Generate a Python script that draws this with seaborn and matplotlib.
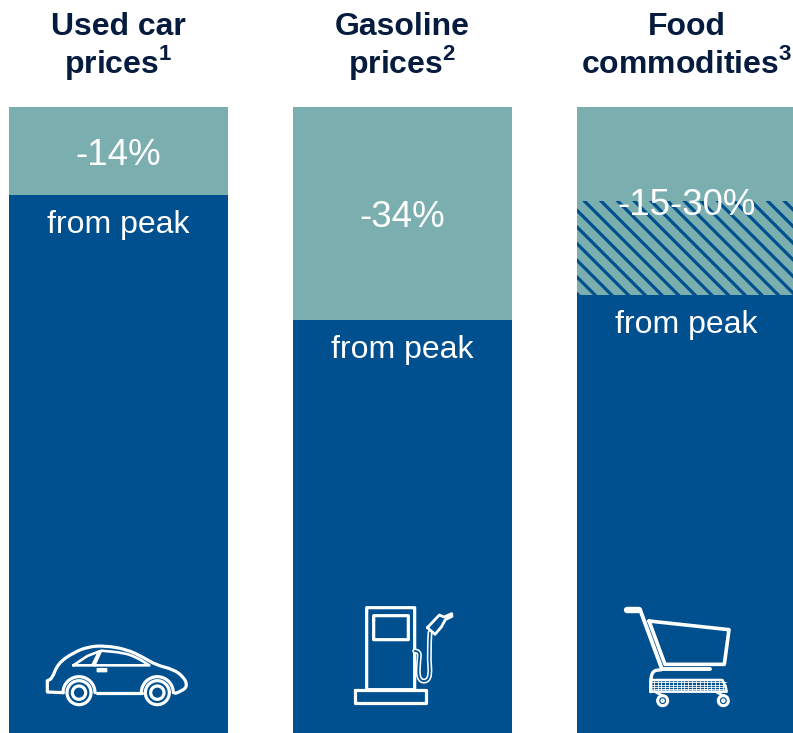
import numpy as np
import pandas as pd
import matplotlib
matplotlib.use("Agg")
import matplotlib.pyplot as plt
import seaborn as sns
from matplotlib.path import Path
from matplotlib.patches import PathPatch, Circle
from matplotlib.transforms import Affine2D

# Price levels indexed to each category's peak (peak = 100)
categories = ["Used car prices", "Gasoline prices", "Food commodities"]
header_top = ["Used car", "Gasoline", "Food"]
header_bottom = ["prices$^{\\mathbf{1}}$", "prices$^{\\mathbf{2}}$", "commodities$^{\\mathbf{3}}$"]
peak_level = [100, 100, 100]
level_high = [86, 66, 85]
level_low = [86, 66, 70]
change_labels = ["-14%", "-34%", "-15-30%"]
sub_label = "from peak"

DARK = "#00508F"
TEAL = "#7BAEAE"
NAVY = "#051C3F"
WHITE = "#FFFFFF"

sns.set_theme(style="white")
plt.rcParams["font.family"] = ["Liberation Sans", "DejaVu Sans"]
plt.rcParams["mathtext.fontset"] = "custom"
plt.rcParams["mathtext.bf"] = "Liberation Sans:bold"
plt.rcParams["hatch.linewidth"] = 2.3

W, H = 793, 733
fig = plt.figure(figsize=(W / 100, H / 100), dpi=100, facecolor="white")
ax = fig.add_axes([0, 0, 1, 1])

df = pd.DataFrame({"category": categories, "peak": peak_level,
                   "high": level_high, "low": level_low})

# Layered bars: peak level, uncertain range, then the solid current level
bar_style = dict(order=categories, saturation=1, width=0.771, ax=ax, errorbar=None)
sns.barplot(data=df, x="category", y="peak", color=TEAL, linewidth=0, **bar_style)
ranged = df[df["high"] != df["low"]]
sns.barplot(data=ranged, x="category", y="high", color=TEAL, linewidth=0, **bar_style)
for bar in ax.containers[-1]:
    bar.set_facecolor(TEAL)
    bar.set_edgecolor(DARK)
    bar.set_linewidth(0)
    bar.set_hatch("\\\\")
sns.barplot(data=df, x="category", y="low", color=DARK, linewidth=0, **bar_style)

ax.set_xlim(-118.5 / 284, (793 - 118.5) / 284)
ax.set_ylim(0, 733 / 6.26)
ax.axis("off")

# Category headers, change labels and the "from peak" captions
for i, cat in enumerate(categories):
    ax.text(i, 111.5, header_top[i], ha="center", va="baseline", fontsize=23, fontweight="bold", color=NAVY)
    ax.text(i, 105.45, header_bottom[i], ha="center", va="baseline", fontsize=23, fontweight="bold", color=NAVY)
    ranged_bar = level_high[i] != level_low[i]
    anchor = level_high[i] if ranged_bar else (peak_level[i] + level_high[i]) / 2
    ax.text(i, anchor - 0.7, change_labels[i], ha="center", va="center", fontsize=26.5, color=WHITE)
    ax.text(i, level_low[i] - 4.8, sub_label, ha="center", va="center", fontsize=23, color=WHITE)


def smooth(points):
    """Quadratic spline through the midpoints of a control polygon."""
    pts = np.asarray(points, float)
    verts = [pts[0]]
    codes = [Path.MOVETO]
    for a, b in zip(pts[1:-1], pts[2:]):
        verts += [a, (a + b) / 2]
        codes += [Path.CURVE3, Path.CURVE3]
    verts[-1] = pts[-1]
    return Path(np.array(verts), codes)


def icon(origin, scale=1 / 3):
    """Transform from icon drawing units, y pointing down, to the canvas."""
    return Affine2D().scale(scale, -scale).translate(origin[0], H - origin[1])


def stroke(path, tf, lw=2.3, fill="none", color=WHITE):
    fig.add_artist(PathPatch(path, transform=tf, fc=fill, ec=color, lw=lw,
                             capstyle="round", joinstyle="round"))


def ring(cx, cy, r, tf, lw=2.3, fill="none"):
    fig.add_artist(Circle((cx, cy), r, transform=tf, fc=fill, ec=WHITE, lw=lw))


def rounded_box(x0, y0, x1, y1, r=0):
    return smooth([(x0, y0 + r), (x0, y0), (x0, y0), (x0 + r, y0), (x1 - r, y0), (x1, y0), (x1, y0),
                   (x1, y0 + r), (x1, y1 - r), (x1, y1), (x1, y1), (x1 - r, y1), (x0 + r, y1),
                   (x0, y1), (x0, y1), (x0, y0 + r), (x0, y0 + r)])


# Car
car = icon((30, 630))
stroke(smooth([(100, 188), (100, 188), (52, 186), (52, 186), (52, 152), (52, 152), (66, 146), (84, 100), (130, 68),
               (175, 50), (225, 47), (290, 58), (340, 82), (378, 105), (430, 118), (460, 140),
               (472, 165), (460, 182), (436, 190)]), car)
stroke(Path([(200, 188), (335, 188)]), car)
for cx in (147, 382):
    stroke(Path.arc(180, 360).transformed(Affine2D().scale(48).translate(cx, 188)), car)
    ring(cx, 188, 36, car)
    ring(cx, 188, 20, car)
stroke(Path([(130, 106), (172, 78), (208, 64), (187, 106), (130, 106)]), car, lw=1.9)
stroke(smooth([(193, 106), (193, 106), (213, 62), (213, 62), (280, 68), (320, 82), (358, 106), (358, 106), (193, 106), (193, 106)]), car, lw=1.9)
stroke(rounded_box(202, 116, 230, 125, 4), car, fill=WHITE, lw=1.0)

# Fuel pump
pump = icon((340, 595))
stroke(rounded_box(80, 38, 224, 284, 12), pump)
stroke(Path([(46, 284), (258, 284), (258, 325), (46, 325), (46, 284)]), pump)
stroke(rounded_box(101, 62, 205, 134, 14), pump)
hose = smooth([(224, 168), (240, 168), (236, 200), (234, 250), (254, 262), (272, 245), (266, 180), (270, 112)])
stroke(hose, pump, lw=3.6)
stroke(hose, pump, lw=1.3, color=DARK)
stroke(Path([(262, 98), (298, 60), (312, 66), (335, 56), (336, 64), (316, 74), (304, 96), (285, 118), (262, 98)]), pump, fill=DARK, lw=2.0)

# Shopping cart
cart = icon((615, 595))
stroke(Path([(36, 46), (72, 46)]), cart, lw=4.6)
stroke(Path([(76, 46), (140, 220)]), cart, lw=2.8)
stroke(Path([(102, 78), (342, 104), (328, 208), (150, 208), (102, 78)]), cart, lw=2.6)
stroke(Path([(140, 222), (285, 222)]), cart, lw=2.8)
stroke(smooth([(140, 224), (140, 224), (108, 228), (107, 290), (107, 290)]), cart, lw=2.4)
stroke(Path([(107, 255), (322, 255), (332, 275), (335, 290), (107, 290)]), cart, lw=1.8)
for x in np.arange(116, 330, 11.5):
    stroke(Path([(x, 257), (x, 288)]), cart, lw=0.6)
for y in np.arange(262, 290, 7):
    stroke(Path([(110, y), (332, y)]), cart, lw=0.6)
for cx in (143, 325):
    ring(cx, 317, 15, cart, lw=2.2)
    ring(cx, 317, 4, cart, lw=1.3)
    stroke(Path([(cx - 20, 292), (cx, 302)]), cart, lw=1.8)

fig.savefig("out.png", dpi=100, facecolor="white")
